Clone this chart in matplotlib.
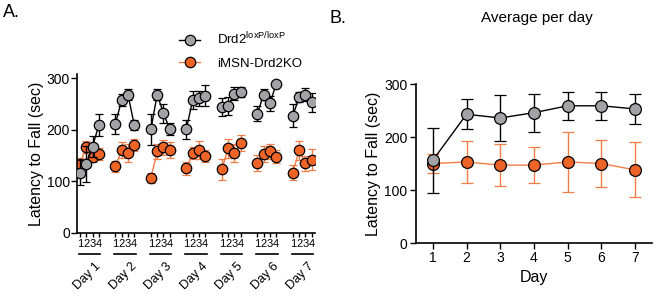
import matplotlib.pyplot as plt
import numpy as np

days = ["Day 1", "Day 2", "Day 3", "Day 4", "Day 5", "Day 6", "Day 7"]
trials = ["1", "2", "3", "4"]

# panel A: latency per trial, rows = days
ctrl_trial = [[117, 133, 167, 209],
              [211, 258, 268, 209],
              [201, 268, 232, 201],
              [201, 258, 261, 266],
              [244, 246, 270, 273],
              [231, 268, 251, 289],
              [227, 263, 268, 253]]
ctrl_trial_err = [[25, 35, 20, 22],
                  [20, 12, 10, 10],
                  [30, 10, 18, 12],
                  [18, 18, 15, 20],
                  [18, 18, 12, 10],
                  [15, 10, 15, 0],
                  [22, 10, 12, 18]]
ko_trial = [[134, 166, 148, 153],
            [129, 161, 155, 171],
            [106, 158, 166, 161],
            [125, 155, 161, 149],
            [123, 164, 155, 174],
            [136, 153, 158, 148],
            [117, 160, 135, 142]]
ko_trial_err = [[12, 12, 10, 12],
                [10, 15, 18, 12],
                [10, 15, 15, 15],
                [12, 12, 18, 12],
                [20, 18, 18, 15],
                [15, 15, 15, 12],
                [15, 18, 15, 20]]

# panel B: average per day
day_num = [1, 2, 3, 4, 5, 6, 7]
ctrl_avg = [156, 243, 236, 246, 259, 259, 253]
ctrl_avg_err = [61, 28, 43, 36, 26, 26, 29]
ko_avg = [150, 153, 147, 147, 153, 150, 138]
ko_avg_err = [18, 39, 40, 34, 57, 45, 52]

gray = "#A3A3A5"
orange = "#EE6427"
orange_line = "#F27D45"

plt.rcParams["font.family"] = ["Liberation Sans", "DejaVu Sans"]

fig = plt.figure(figsize=(6.56, 2.96), dpi=100)
axA = fig.add_axes([0.117, 0.213, 0.363, 0.537])
axB = fig.add_axes([0.634, 0.179, 0.360, 0.537])

gap = 5.63
for d in range(len(days)):
    xs = d * gap + np.arange(4)
    axA.errorbar(xs, ko_trial[d], yerr=ko_trial_err[d], color=orange_line, lw=1.0,
                 ecolor=orange_line, elinewidth=1.0, capsize=3, capthick=1.0,
                 marker="o", ms=7.5, mfc=orange, mec="black", mew=0.9, zorder=2)
    axA.errorbar(xs, ctrl_trial[d], yerr=ctrl_trial_err[d], color="black", lw=1.0,
                 ecolor="black", elinewidth=1.0, capsize=3, capthick=1.0,
                 marker="o", ms=7.5, mfc=gray, mec="black", mew=0.9, zorder=3)

ticks = [d * gap + t for d in range(len(days)) for t in range(4)]
axA.set_xticks(ticks)
axA.set_xticklabels(trials * len(days), fontsize=8)
axA.tick_params(axis="x", length=3, width=1, pad=1.5)
axA.set_xlim(-0.5, (len(days) - 1) * gap + 3.5)
axA.set_ylim(0, 308)
axA.set_yticks([0, 100, 200, 300])
axA.tick_params(axis="y", labelsize=10, length=4, width=1, pad=1)
axA.set_ylabel("Latency to Fall (sec)", fontsize=11.5, labelpad=2)

trans = axA.get_xaxis_transform()
for d, name in enumerate(days):
    x0 = d * gap
    axA.plot([x0 - 0.2, x0 + 3.2], [-0.13, -0.13], color="black", lw=1.2,
             transform=trans, clip_on=False)
    axA.text(x0 + 2.4, -0.17, name, transform=trans, rotation=45, fontsize=9,
             ha="right", va="top", rotation_mode="anchor")

axB.errorbar(day_num, ko_avg, yerr=ko_avg_err, color=orange_line, lw=1.0,
             ecolor=orange_line, elinewidth=1.0, capsize=4, capthick=1.0,
             marker="o", ms=8.5, mfc=orange, mec="black", mew=0.9, zorder=2)
axB.errorbar(day_num, ctrl_avg, yerr=ctrl_avg_err, color="black", lw=1.0,
             ecolor="black", elinewidth=1.0, capsize=4, capthick=1.0,
             marker="o", ms=8.5, mfc=gray, mec="black", mew=0.9, zorder=3)
axB.set_xlim(0.5, 7.5)
axB.set_ylim(0, 300)
axB.set_xticks(day_num)
axB.set_yticks([0, 100, 200, 300])
axB.tick_params(labelsize=10, length=4, width=1, pad=2)
axB.set_xlabel("Day", fontsize=11.5, labelpad=3)
axB.set_ylabel("Latency to Fall (sec)", fontsize=11.5, labelpad=2)

for ax in (axA, axB):
    ax.spines["top"].set_visible(False)
    ax.spines["right"].set_visible(False)
    ax.spines["left"].set_linewidth(1.2)
    ax.spines["bottom"].set_linewidth(1.2)

h1, = axA.plot([], [], color="black", lw=1.0, marker="o", ms=7.5, mfc=gray, mec="black", mew=0.9)
h2, = axA.plot([], [], color=orange_line, lw=1.0, marker="o", ms=7.5, mfc=orange, mec="black", mew=0.9)
fig.legend([h1, h2], [r"Drd2$^{\mathregular{loxP/loxP}}$", "iMSN-Drd2KO"],
           loc="upper left", bbox_to_anchor=(0.255, 0.935), frameon=False,
           fontsize=9.5, handlelength=1.6, handletextpad=1.3, labelspacing=0.75)

fig.text(0.005, 0.985, "A.", fontsize=13, va="top")
fig.text(0.503, 0.965, "B.", fontsize=13, va="top")
fig.text(0.818, 0.94, "Average per day", fontsize=11, ha="center", va="center")

fig.savefig("out.png", dpi=100)
